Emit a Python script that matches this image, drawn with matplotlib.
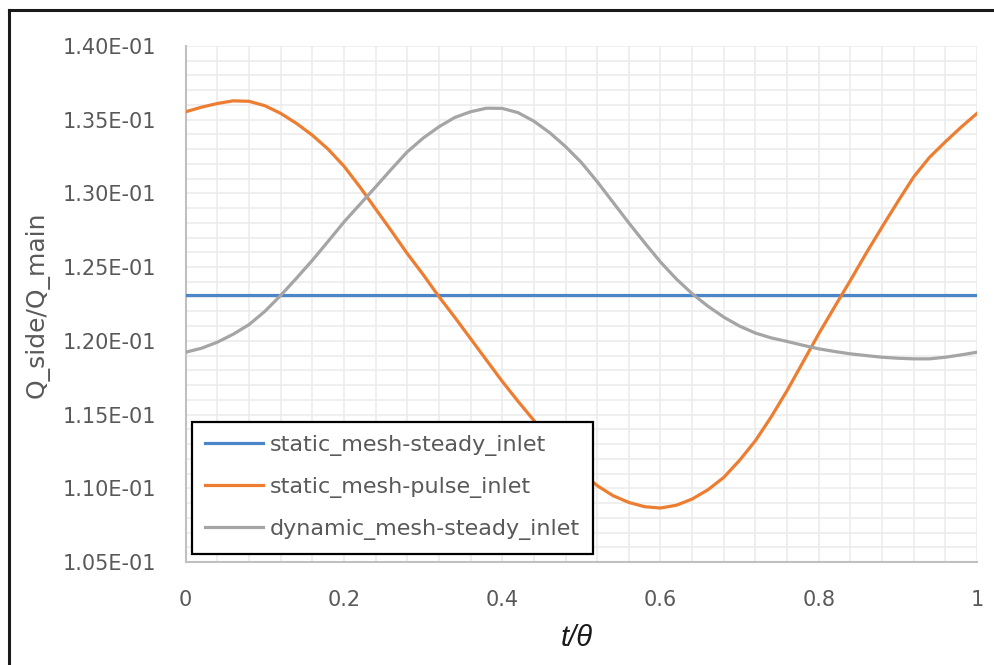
import numpy as np
import matplotlib
matplotlib.use("Agg")
import matplotlib.pyplot as plt
from matplotlib.ticker import MultipleLocator, FuncFormatter
from matplotlib.lines import Line2D

# t/theta sampling
t = [0.00, 0.02, 0.04, 0.06, 0.08, 0.10, 0.12, 0.14, 0.16, 0.18,
     0.20, 0.22, 0.24, 0.26, 0.28, 0.30, 0.32, 0.34, 0.36, 0.38,
     0.40, 0.42, 0.44, 0.46, 0.48, 0.50, 0.52, 0.54, 0.56, 0.58,
     0.60, 0.62, 0.64, 0.66, 0.68, 0.70, 0.72, 0.74, 0.76, 0.78,
     0.80, 0.82, 0.84, 0.86, 0.88, 0.90, 0.92, 0.94, 0.96, 0.98, 1.00]

# static mesh, steady inlet (constant)
t_steady = [0.0, 1.0]
static_steady = [0.12308, 0.12308]

# static mesh, pulse inlet
static_pulse = [0.13554, 0.13585, 0.13610, 0.13628, 0.13625, 0.13595, 0.13543, 0.13475, 0.13395, 0.13300,
                0.13185, 0.13045, 0.12895, 0.12745, 0.12592, 0.12450, 0.12300, 0.12160, 0.12015, 0.11870,
                0.11725, 0.11590, 0.11460, 0.11335, 0.11220, 0.11110, 0.11018, 0.10950, 0.10904, 0.10875,
                0.10866, 0.10885, 0.10927, 0.10990, 0.11074, 0.11190, 0.11323, 0.11485, 0.11663, 0.11855,
                0.12048, 0.12230, 0.12410, 0.12595, 0.12772, 0.12945, 0.13112, 0.13245, 0.13350, 0.13450, 0.13543]

# dynamic mesh, steady inlet
dynamic_steady = [0.11923, 0.11950, 0.11991, 0.12045, 0.12110, 0.12200, 0.12308, 0.12425, 0.12546, 0.12675,
                  0.12806, 0.12925, 0.13044, 0.13165, 0.13282, 0.13375, 0.13452, 0.13515, 0.13554, 0.13578,
                  0.13577, 0.13548, 0.13490, 0.13412, 0.13318, 0.13210, 0.13080, 0.12940, 0.12800, 0.12665,
                  0.12535, 0.12420, 0.12320, 0.12235, 0.12161, 0.12100, 0.12053, 0.12020, 0.11996, 0.11970,
                  0.11946, 0.11928, 0.11912, 0.11900, 0.11889, 0.11882, 0.11878, 0.11878, 0.11889, 0.11905, 0.11923]

labels = ["static_mesh-steady_inlet", "static_mesh-pulse_inlet", "dynamic_mesh-steady_inlet"]
colors = ["#4a86c8", "#ed7d31", "#a5a5a5"]

W, H = 995, 665
fig = plt.figure(figsize=(W / 100, H / 100), dpi=100)
fig.patch.set_facecolor("white")

ax = fig.add_axes([185.7 / W, 1 - 562 / H, (977 - 185.7) / W, (562 - 46) / H])

ax.plot(t_steady, static_steady, color=colors[0], lw=2.3, label=labels[0], zorder=3)
ax.plot(t, static_pulse, color=colors[1], lw=2.3, label=labels[1], zorder=3,
        solid_joinstyle="round")
ax.plot(t, dynamic_steady, color=colors[2], lw=2.3, label=labels[2], zorder=3,
        solid_joinstyle="round")

ax.set_xlim(0, 1)
ax.set_ylim(0.105, 0.140)
ax.xaxis.set_major_locator(MultipleLocator(0.2))
ax.xaxis.set_minor_locator(MultipleLocator(0.04))
ax.yaxis.set_major_locator(MultipleLocator(0.005))
ax.yaxis.set_minor_locator(MultipleLocator(0.001))
ax.xaxis.set_major_formatter(FuncFormatter(lambda v, p: "{:g}".format(round(v, 2))))
ax.yaxis.set_major_formatter(FuncFormatter(lambda v, p: "{:.2E}".format(v)))

ax.grid(which="both", color="#ececec", lw=1.2, zorder=0)
ax.set_axisbelow(True)
for s in ["top", "right"]:
    ax.spines[s].set_visible(False)
for s in ["left", "bottom"]:
    ax.spines[s].set_color("#c0c0c0")
    ax.spines[s].set_linewidth(1.5)

ax.tick_params(which="both", length=0)
ax.tick_params(axis="y", labelsize=15, labelcolor="#595959", pad=21)
ax.tick_params(axis="x", labelsize=15, labelcolor="#595959", pad=20)

fig.text(37 / W, 1 - 305 / H, "Q_side/Q_main", rotation=90, ha="center", va="center",
         fontsize=18, color="#595959")
fig.text(577 / W, 1 - 638 / H, "t/θ", ha="center", va="center", fontsize=21,
         style="italic", family="Liberation Sans", color="#1a1a1a")

leg = ax.legend(loc="upper left", bbox_to_anchor=(191.7 / W, 1 - 421.7 / H),
                bbox_transform=fig.transFigure, borderaxespad=0, fontsize=16,
                handlelength=2.6, handletextpad=0.3, labelspacing=0.95,
                borderpad=0.6, fancybox=False, framealpha=1, edgecolor="black")
leg.get_frame().set_linewidth(1.6)
for txt in leg.get_texts():
    txt.set_color("#595959")

# outer chart frame (top and left edges visible)
fig.add_artist(Line2D([9 / W, 1], [1 - 9.5 / H, 1 - 9.5 / H], transform=fig.transFigure,
                      color="#1a1a1a", lw=2.2))
fig.add_artist(Line2D([9 / W, 9 / W], [0, 1 - 9.5 / H], transform=fig.transFigure,
                      color="#1a1a1a", lw=2.2))

fig.savefig("out.png", dpi=100, facecolor="white")
